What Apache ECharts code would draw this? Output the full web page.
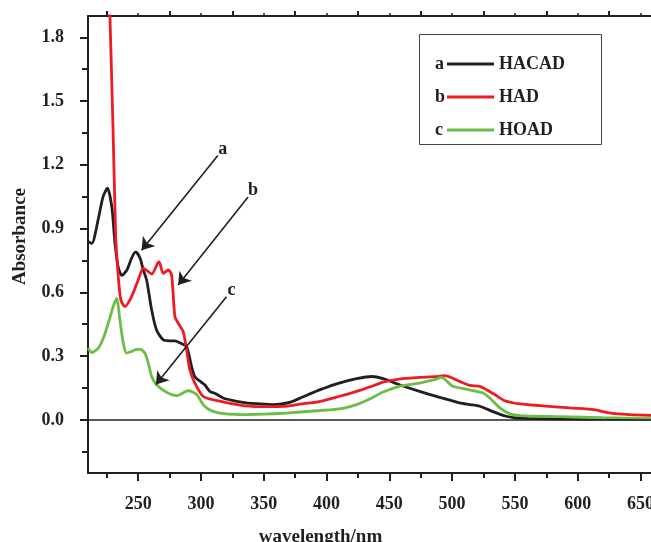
<!DOCTYPE html>
<html>
<head>
<meta charset="utf-8">
<script src="https://cdn.jsdelivr.net/npm/echarts@6/dist/echarts.min.js"></script>
<style>
html, body { margin: 0; padding: 0; background: #fff; }
#main { width: 651px; height: 542px; }
</style>
</head>
<body>
<div id="main"></div>
<script>
// a: HACAD
var hacadX = [210, 213, 218, 222, 225.5, 229, 231.5, 234, 237, 241, 245, 248, 251.5, 254, 256.7, 260.7, 264.6, 270, 275, 279.2, 284, 288.5, 292.5, 295, 300.4, 303, 307, 311, 317.6, 324, 336, 345, 357, 364, 372, 380, 395, 410, 424, 436, 445, 458, 474, 490, 506, 514, 522, 532, 543, 550, 560, 580, 600, 630, 660];
var hacadY = [0.84, 0.83, 0.94, 1.05, 1.09, 1.0, 0.83, 0.72, 0.68, 0.705, 0.765, 0.79, 0.76, 0.705, 0.658, 0.517, 0.423, 0.376, 0.372, 0.372, 0.36, 0.345, 0.251, 0.204, 0.176, 0.165, 0.134, 0.125, 0.103, 0.093, 0.08, 0.076, 0.072, 0.075, 0.085, 0.105, 0.142, 0.173, 0.194, 0.204, 0.194, 0.165, 0.134, 0.106, 0.08, 0.072, 0.064, 0.04, 0.017, 0.01, 0.007, 0.005, 0.004, 0.003, 0.003];
// b: HAD
var hadX = [227, 229.8, 232, 232.8, 234.1, 236.2, 239.4, 244.7, 250, 254, 257.5, 260.7, 266.5, 270, 274, 276.6, 279.2, 281.8, 285.8, 288.5, 291.1, 295.1, 301.7, 315, 335, 355, 365, 379, 395, 410.5, 424, 436, 445, 458, 474, 490, 494, 506, 514, 522, 525, 534, 542, 554, 570, 594, 613, 625, 641, 660];
var hadY = [2.0, 1.4, 0.87, 0.783, 0.673, 0.564, 0.533, 0.58, 0.658, 0.713, 0.70, 0.686, 0.744, 0.689, 0.705, 0.681, 0.486, 0.455, 0.415, 0.33, 0.236, 0.173, 0.111, 0.088, 0.066, 0.062, 0.063, 0.074, 0.087, 0.111, 0.134, 0.158, 0.178, 0.192, 0.2, 0.205, 0.208, 0.181, 0.162, 0.158, 0.15, 0.119, 0.09, 0.075, 0.067, 0.056, 0.048, 0.033, 0.025, 0.021];
// c: HOAD
var hoadX = [210, 213, 218.2, 222.2, 226.1, 230.1, 232.8, 235.4, 238.1, 240.8, 244.7, 248, 251.4, 255.3, 258, 260.7, 264.6, 272.6, 280.6, 289.8, 296.5, 301.7, 306, 313.7, 331, 350, 363, 379, 395, 410.5, 424, 436, 445, 458, 474, 486, 491.4, 500.6, 511.3, 522, 524.5, 530, 538, 546, 554, 585, 620, 660];
var hoadY = [0.338, 0.317, 0.338, 0.384, 0.455, 0.533, 0.572, 0.47, 0.361, 0.314, 0.322, 0.33, 0.333, 0.314, 0.267, 0.204, 0.165, 0.13, 0.114, 0.137, 0.119, 0.072, 0.05, 0.033, 0.025, 0.027, 0.03, 0.037, 0.044, 0.052, 0.072, 0.103, 0.131, 0.158, 0.173, 0.189, 0.2, 0.158, 0.145, 0.13, 0.127, 0.103, 0.056, 0.028, 0.02, 0.015, 0.01, 0.006];

var seriesNames = ['HACAD', 'HAD', 'HOAD'];
var seriesLetters = ['a', 'b', 'c'];
var colors = ['#231f20', '#ed1c24', '#6abd45'];

var xLabels = [250, 300, 350, 400, 450, 500, 550, 600, 650];
var xMinorTicks = [225, 275, 325, 375, 425, 475, 525, 575, 625];
var yLabels = [0, 0.3, 0.6, 0.9, 1.2, 1.5, 1.8];
var yMinorTicks = [-0.15, 0.15, 0.45, 0.75, 1.05, 1.35, 1.65];

// arrows: [from, to] in data units, letter at the start
var arrowA = [[313.4, 1.244], [252.7, 0.798]];
var arrowB = [[337.5, 1.048], [281.8, 0.634]];
var arrowC = [[320.3, 0.579], [264.1, 0.166]];

var pairs = function (xs, ys) {
    var out = [];
    for (var i = 0; i < xs.length; i++) out.push([xs[i], ys[i]]);
    return out;
};

var font = 'Liberation Serif';
var ink = '#231f20';

var baseX = { type: 'value', min: 210, max: 660, gridIndex: 0, splitLine: { show: false } };
var baseY = { type: 'value', min: -0.25, max: 1.9, gridIndex: 0, splitLine: { show: false } };

var myChart = echarts.init(document.getElementById('main'), null, { renderer: 'canvas' });

var arrowItem = function (arr, letter) {
    return [
        { coord: arr[0], label: { show: true, position: 'start', formatter: letter, distance: 8 } },
        { coord: arr[1] }
    ];
};

// legend rows: text box centres
var legendTop = 54, rowStep = 33;
var letterText = function (letter, i) {
    return {
        type: 'text', x: 435, y: legendTop + 10 + i * rowStep, z: 100,
        style: { text: letter, fontFamily: font, fontWeight: 'bold', fontSize: 18, lineHeight: 20, fill: ink, verticalAlign: 'middle' }
    };
};

var option = {
    animation: false,
    backgroundColor: '#fff',
    grid: { left: 88, right: -2, top: 16, bottom: 69, outerBoundsMode: 'none', containLabel: false },
    xAxis: [
        Object.assign({}, baseX, {
            position: 'bottom',
            name: 'wavelength/nm',
            nameLocation: 'middle',
            nameGap: 55,
            nameTextStyle: { fontFamily: font, fontWeight: 'bold', fontSize: 19, color: ink, padding: [0, 100, 0, 0] },
            axisLine: { show: true, onZero: false, lineStyle: { color: ink, width: 2 } },
            axisTick: { show: true, inside: false, length: 8, lineStyle: { color: ink, width: 2 }, customValues: xLabels },
            axisLabel: { show: true, margin: 22, fontFamily: font, fontWeight: 'bold', fontSize: 18, color: ink, customValues: xLabels }
        }),
        Object.assign({}, baseX, {
            position: 'bottom',
            axisLine: { show: false, onZero: false },
            axisTick: { show: true, inside: false, length: 5, lineStyle: { color: ink, width: 2 }, customValues: xMinorTicks },
            axisLabel: { show: false }
        }),
        Object.assign({}, baseX, {
            position: 'top',
            axisLine: { show: true, onZero: false, lineStyle: { color: ink, width: 2 } },
            axisTick: { show: true, inside: false, length: 5, lineStyle: { color: ink, width: 2 }, customValues: xMinorTicks },
            axisLabel: { show: false }
        }),
        Object.assign({}, baseX, {
            position: 'top',
            axisLine: { show: false, onZero: false },
            axisTick: { show: true, inside: false, length: 3, lineStyle: { color: ink, width: 1.5 }, customValues: xLabels },
            axisLabel: { show: false }
        })
    ],
    yAxis: [
        Object.assign({}, baseY, {
            position: 'left',
            name: 'Absorbance',
            nameLocation: 'middle',
            nameGap: 58,
            nameRotate: 90,
            nameTextStyle: { fontFamily: font, fontWeight: 'bold', fontSize: 19, color: ink, padding: [0, 0, 0, 16] },
            axisLine: { show: true, onZero: false, lineStyle: { color: ink, width: 2 } },
            axisTick: { show: true, inside: false, length: 8, lineStyle: { color: ink, width: 2 }, customValues: yLabels },
            axisLabel: {
                show: true, margin: 24, fontFamily: font, fontWeight: 'bold', fontSize: 18, color: ink,
                customValues: yLabels,
                formatter: function (v) { return v.toFixed(1); }
            }
        }),
        Object.assign({}, baseY, {
            position: 'left',
            axisLine: { show: false, onZero: false },
            axisTick: { show: true, inside: false, length: 6, lineStyle: { color: ink, width: 2 }, customValues: yMinorTicks },
            axisLabel: { show: false }
        })
    ],
    legend: {
        orient: 'vertical',
        left: 447,
        top: legendTop,
        padding: 0,
        itemWidth: 47,
        itemHeight: 3,
        itemGap: rowStep - 20,
        icon: 'rect',
        data: seriesNames,
        textStyle: { fontFamily: font, fontWeight: 'bold', fontSize: 18, lineHeight: 20, color: ink }
    },
    graphic: [
        { type: 'rect', left: 417, top: 32, shape: { width: 182, height: 110 }, style: { fill: 'none', stroke: '#444', lineWidth: 1 }, z: 100 },
        letterText(seriesLetters[0], 0),
        letterText(seriesLetters[1], 1),
        letterText(seriesLetters[2], 2)
    ],
    series: [
        {
            name: seriesNames[0], type: 'line', data: pairs(hacadX, hacadY),
            showSymbol: false, symbol: 'none', smooth: 0.25, clip: true,
            color: colors[0], lineStyle: { color: colors[0], width: 2.8 },
            markLine: {
                silent: true,
                animation: false,
                symbol: ['none', 'none'],
                label: { show: false },
                lineStyle: { color: ink, width: 1.5, type: 'solid' },
                emphasis: { disabled: true },
                data: [{ yAxis: 0 }]
            }
        },
        {
            name: seriesNames[1], type: 'line', data: pairs(hadX, hadY),
            showSymbol: false, symbol: 'none', smooth: 0.25, clip: true,
            color: colors[1], lineStyle: { color: colors[1], width: 2.8 }
        },
        {
            name: seriesNames[2], type: 'line', data: pairs(hoadX, hoadY),
            showSymbol: false, symbol: 'none', smooth: 0.25, clip: true,
            color: colors[2], lineStyle: { color: colors[2], width: 2.8 },
            markLine: {
                silent: true,
                animation: false,
                symbol: ['none', 'arrow'],
                symbolSize: 12,
                lineStyle: { color: ink, width: 1.6, type: 'solid' },
                label: { color: ink, fontFamily: font, fontWeight: 'bold', fontSize: 18 },
                emphasis: { disabled: true },
                data: [
                    arrowItem(arrowA, seriesLetters[0]),
                    arrowItem(arrowB, seriesLetters[1]),
                    arrowItem(arrowC, seriesLetters[2])
                ]
            }
        }
    ]
};
myChart.setOption(option);
window.onresize = myChart.resize;
</script>
</body>
</html>
